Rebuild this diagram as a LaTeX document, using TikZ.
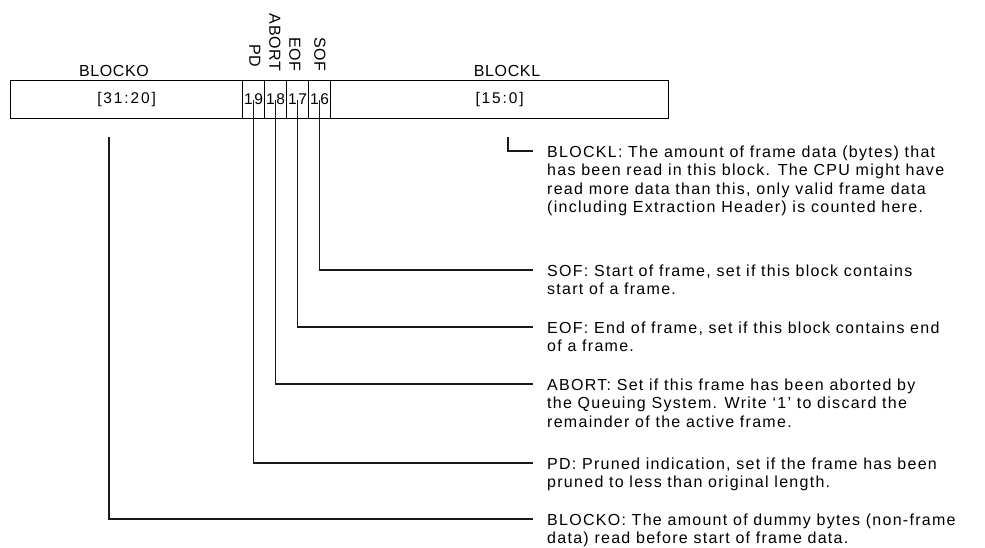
\documentclass[tikz,border=0pt]{standalone}
\usepackage{fontspec}
\setmainfont{Liberation Sans}
\newfontfamily\descfont[LetterSpace=8]{Liberation Sans}
\newfontfamily\labfont[LetterSpace=4]{Liberation Sans}
\newfontfamily\numfont[LetterSpace=12]{Liberation Sans}
\begin{document}
\begin{tikzpicture}[x=1pt,y=-1pt,
  conn/.style={line width=1.1pt,black!90},
  cell/.style={draw,line width=1.1pt,minimum height=38pt,inner sep=0pt,anchor=north west,font=\numfont\fontsize{15.5}{18}\selectfont},
  toplab/.style={font=\labfont\fontsize{16}{18}\selectfont,inner sep=0pt,text height=11.5pt,text depth=0pt},
  vlab/.style={toplab,rotate=-90},
  desc/.style={anchor=north west,inner sep=0pt,align=left,font=\descfont\fontsize{16}{18.5}\selectfont}
]
\useasboundingbox (0,0) rectangle (985,548);
% register cells
\node[cell,minimum width=232pt] (bo) at (10,80) {[31:20]};
\node[cell,minimum width=22pt] (c19) at (242,80) {19};
\node[cell,minimum width=22pt] (c18) at (264,80) {18};
\node[cell,minimum width=22pt] (c17) at (286,80) {17};
\node[cell,minimum width=22pt] (c16) at (308,80) {16};
\node[cell,minimum width=338pt] (bl) at (330,80) {[15:0]};
% top labels
\node[toplab] (lbo) at (114,71) {BLOCKO};
\node[toplab] (lbl) at (507,71) {BLOCKL};
\node[vlab] (lpd) at (255,56) {PD};
\node[vlab] (lab) at (275,42.5) {ABORT};
\node[vlab] (leof) at (295,54.5) {EOF};
\node[vlab] (lsof) at (320,54.5) {SOF};
% descriptions
\node[desc] (dbl) at (547,145) {\rule{0pt}{12pt}BLOCKL: The amount of frame data (bytes) that\\has been read in this block. The CPU might have\\read more data than this, only valid frame data\\(including Extraction Header) is counted here.};
\node[desc] (dsof) at (547,264) {\rule{0pt}{12pt}SOF: Start of frame, set if this block contains\\start of a frame.};
\node[desc] (deof) at (547,321) {\rule{0pt}{12pt}EOF: End of frame, set if this block contains end\\of a frame.};
\node[desc] (dab) at (547,378) {\rule{0pt}{12pt}ABORT: Set if this frame has been aborted by\\the Queuing System. Write ‘1’ to discard the\\remainder of the active frame.};
\node[desc] (dpd) at (547,457) {\rule{0pt}{12pt}PD: Pruned indication, set if the frame has been\\pruned to less than original length.};
\node[desc] (dbo) at (547,513) {\rule{0pt}{12pt}BLOCKO: The amount of dummy bytes (non-frame\\data) read before start of frame data.};
% connector end points
\coordinate (ebl) at (533,151);
\coordinate (esof) at (533,270);
\coordinate (eeof) at (533,327);
\coordinate (eab) at (533,384);
\coordinate (epd) at (533,463);
\coordinate (ebo) at (533,519);
% connectors
\draw[conn] (508,137) |- (ebl);
\draw[conn] ([yshift=19pt]c16.south) |- (esof);
\draw[conn] ([yshift=19pt]c17.south) |- (eeof);
\draw[conn] ([yshift=19pt]c18.south) |- (eab);
\draw[conn] ([yshift=19pt]c19.south) |- (epd);
\draw[conn] (109,137) |- (ebo);
\end{tikzpicture}
\end{document}
